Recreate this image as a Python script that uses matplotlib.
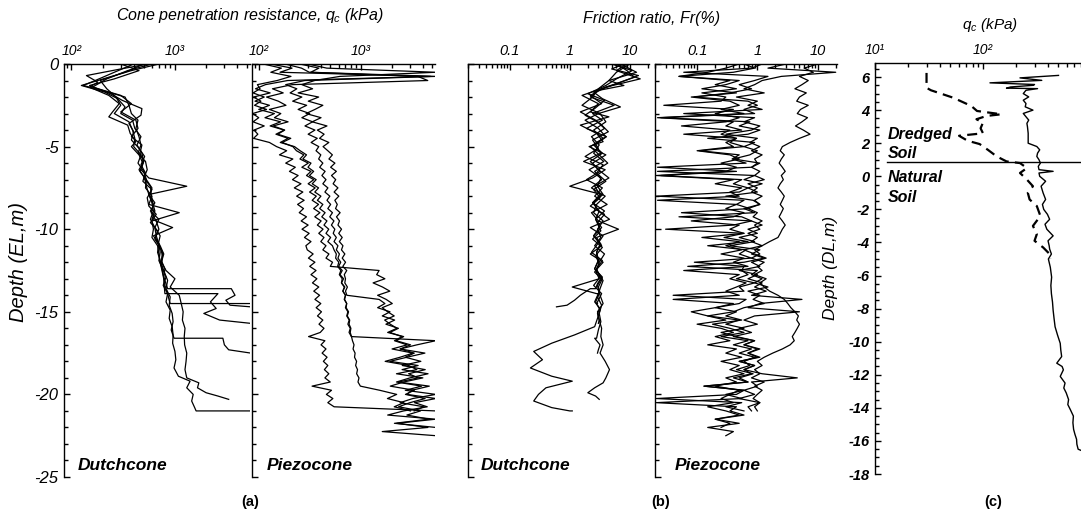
import numpy as np
import matplotlib
matplotlib.use("Agg")
import matplotlib.pyplot as plt
from matplotlib.ticker import LogLocator, MultipleLocator, NullFormatter

plt.rcParams['font.family'] = 'Liberation Sans'
plt.rcParams['font.style'] = 'italic'
plt.rcParams['axes.unicode_minus'] = False
plt.rcParams['mathtext.fontset'] = 'custom'
plt.rcParams['mathtext.it'] = 'Liberation Sans:italic'
plt.rcParams['mathtext.rm'] = 'Liberation Sans:italic'

# ---------------- (a)/(b) Dutchcone soundings: depth (EL, m), qc (kPa), Fr (%)
dc_a_depth = [0, -0.4, -0.8, -1.3, -1.7, -2.1, -2.6, -3.0, -3.4, -3.9,
              -4.4, -4.9, -5.4, -5.9, -6.4, -6.9, -7.4, -7.9, -8.4, -8.9,
              -9.4, -9.9, -10.4, -10.9, -11.4, -11.9, -12.4, -12.9, -13.3, -13.6,
              -13.6, -14.0, -14.3, -14.6, -14.7]
dc_a_qc = [700, 380, 230, 125, 210, 280, 330, 300, 390, 410,
           470, 430, 480, 500, 470, 560, 1300, 560, 640, 580,
           700, 640, 720, 690, 760, 740, 800, 780, 820, 850,
           3500, 3800, 3100, 3400, 5400]
dc_a_fr = [6, 9, 12, 5, 2.5, 3.5, 7, 3, 1.8, 3,
           4, 2.5, 3.5, 2.2, 3, 4.5, 2.6, 3.2, 2.4, 3.8,
           2.7, 3.1, 2.5, 3.3, 2.8, 3.0, 2.6, 3.4, 2.9, 2.7,
           2.2, 1.5, 1.2, 0.9, 0.6]

dc_b_depth = [0, -0.3, -0.7, -1.1, -1.4, -1.9, -2.4, -2.9, -3.2, -3.7,
              -4.2, -4.7, -5.0, -5.5, -6.0, -6.5, -7.0, -7.5, -8.0, -8.5,
              -9.0, -9.5, -10.0, -10.5, -11.0, -11.5, -12.0, -12.5, -13.0, -13.5,
              -13.9, -13.9, -14.4, -14.8, -15.1, -15.5, -15.7]
dc_b_qc = [550, 300, 140, 180, 150, 230, 290, 250, 230, 350,
           370, 420, 380, 450, 490, 460, 530, 520, 600, 560,
           1100, 600, 620, 600, 680, 700, 720, 750, 780, 790,
           800, 2600, 2200, 2500, 1900, 2700, 5400]
dc_b_fr = [8, 5, 14, 7, 4, 1.6, 3, 2.2, 4.5, 1.5,
           2.8, 3.6, 2.1, 4, 2.4, 3.2, 1.9, 3.5, 2.6, 4.2,
           2.3, 3, 6.5, 2.8, 3.4, 2.2, 3.6, 2.7, 3.1, 1.1,
           2.8, 3.0, 2.6, 3.2, 2.9, 3.1, 3.0]

dc_c_depth = [0, -0.5, -1.0, -1.3, -1.6, -2.0, -2.5, -3.0, -3.4, -3.9,
              -4.4, -4.9, -5.4, -5.9, -6.4, -6.9, -7.4, -7.9, -8.4, -8.9,
              -9.4, -9.9, -10.4, -10.9, -11.4, -11.9, -12.4, -12.9, -13.4, -13.9,
              -14.3, -14.5, -14.5]
dc_c_qc = [400, 260, 170, 130, 200, 330, 360, 380, 440, 420,
           450, 470, 440, 520, 540, 500, 580, 590, 610, 640,
           600, 950, 620, 700, 720, 700, 760, 820, 770, 850,
           880, 900, 5400]
dc_c_fr = [10, 6, 4.5, 8, 3, 2.2, 5.5, 2.4, 3.5, 1.9,
           4.1, 2.6, 3.3, 1.7, 3.9, 2.4, 1.0, 3.4, 2.5, 3.0,
           4.6, 2.2, 3.6, 2.9, 2.3, 3.5, 2.8, 3.2, 2.5, 3.4,
           3.0, 2.8, 2.9]

dc_d_depth = [0, -0.4, -0.9, -1.3, -1.8, -2.2, -2.7, -3.1, -3.6, -4.1,
              -4.6, -5.1, -5.6, -6.1, -6.6, -7.1, -7.6, -8.1, -8.6, -9.1,
              -9.6, -10.1, -10.6, -11.1, -11.6, -12.1, -12.6, -13.1, -13.6, -14.1,
              -14.6, -15.1, -15.6, -16.1, -16.6, -16.6, -17.0, -17.3, -17.5]
dc_d_qc = [300, 450, 260, 150, 240, 310, 480, 470, 360, 400,
           380, 450, 510, 470, 520, 490, 600, 540, 560, 660,
           580, 680, 640, 720, 760, 740, 790, 850, 820, 900,
           880, 940, 960, 920, 980, 2900, 3000, 3300, 5400]
dc_d_fr = [5, 11, 6, 4, 2, 3.8, 2.6, 1.8, 3.2, 4.4,
           2.4, 3.0, 1.8, 3.6, 2.8, 4.0, 2.5, 3.2, 2.2, 3.8,
           2.9, 3.3, 2.4, 3.5, 2.7, 3.1, 2.6, 3.6, 3.2, 2.9,
           3.4, 3.1, 3.3, 3.0, 2.8, 2.6, 3.2, 3.0, 2.9]

dc_e_depth = [0, -0.5, -1.0, -1.5, -2.0, -2.5, -3.0, -3.5, -4.0, -4.5,
              -5.0, -5.5, -6.0, -6.5, -7.0, -7.5, -8.0, -8.5, -9.0, -9.5,
              -10.0, -10.5, -11.0, -11.5, -12.0, -12.5, -13.0, -13.5, -14.0, -14.5,
              -15.0, -15.5, -16.0, -16.5, -17.0, -17.5, -18.0, -18.5, -19.0, -19.3,
              -19.6, -19.9, -20.1, -20.3]
dc_e_qc = [500, 330, 190, 220, 270, 300, 260, 360, 390, 410,
           400, 470, 440, 500, 530, 600, 570, 620, 590, 660,
           700, 650, 720, 780, 740, 820, 1000, 900, 1100, 1150,
           1200, 1180, 1250, 1230, 1240, 1300, 1280, 1250, 1300, 1700,
           1650, 2000, 2600, 3300]
dc_e_fr = [7, 13, 4.5, 3, 2.4, 1.6, 3.2, 4, 2.5, 3.6,
           2.2, 3.1, 4.3, 2.6, 3.4, 2.3, 3.9, 2.8, 2.5, 3.6,
           2.9, 3.3, 2.6, 3.8, 3.1, 2.8, 3.5, 3.0, 3.2, 3.6,
           2.9, 3.1, 3.4, 3.3, 3.6, 3.2, 3.9, 4.6, 4.0, 3.6,
           2.6, 2.0, 2.7, 3.1]

dc_f_depth = [0, -0.4, -0.9, -1.4, -1.9, -2.4, -2.9, -3.4, -3.9, -4.4,
              -4.9, -5.4, -5.9, -6.4, -6.9, -7.4, -7.9, -8.4, -8.9, -9.4,
              -9.9, -10.4, -10.9, -11.4, -11.9, -12.4, -12.9, -13.4, -13.9, -14.4,
              -14.9, -15.4, -15.9, -16.4, -16.9, -17.4, -17.9, -18.4, -18.9, -19.2,
              -19.6, -20.0, -20.4, -20.8, -21.0, -21.0]
dc_f_qc = [600, 350, 220, 160, 300, 380, 300, 420, 440, 380,
           480, 460, 500, 450, 510, 530, 560, 600, 620, 580,
           640, 660, 700, 680, 720, 750, 780, 800, 850, 820,
           900, 880, 940, 960, 950, 1000, 1020, 980, 1080, 1400,
           1300, 1500, 1450, 1550, 1600, 5400]
dc_f_fr = [9, 6, 15, 4, 2.2, 3.4, 1.5, 2.7, 3.8, 2.3,
           3.1, 2.5, 3.7, 2.1, 3.3, 2.9, 3.6, 2.4, 3.1, 2.7,
           3.4, 2.5, 3.2, 2.8, 3.0, 2.6, 3.5, 2.9, 3.1, 2.7,
           3.2, 2.9, 2.6, 1.2, 0.5, 0.25, 0.35, 0.22, 0.5, 1.1,
           0.4, 0.3, 0.25, 0.5, 1.0, 1.1]

# ---------------- (a)/(b) Piezocone soundings, read every 0.25 m from the surface
pz_step = 0.25
pz1_qc = [130, 210, 160, 4800, 190,  115, 92, 128, 88, 104,  90, 118, 86, 99, 87,
          112, 89, 97, 88, 126,  148, 186, 158, 214, 182,  226, 198, 241, 212, 257,
          221, 268, 233, 276, 238,  272, 247, 291, 258, 302,  263, 309, 278, 322, 287,
          296, 338, 304, 352, 313,  361, 322, 368, 333, 384,  343, 391, 352, 402, 362,
          408, 373, 421, 386, 432,  397, 305, 441, 404, 452,  414, 463, 426, 471, 436,
          482, 441, 498, 330, 512,  456, 528, 471, 543, 5400]
pz2_qc = [180, 260, 310, 3600, 4500,  210, 135, 172, 118, 154,  183, 126, 163, 141, 192,
          137, 178, 152, 204, 168,  214, 232, 274, 251, 303,  262, 322, 291, 343, 302,
          354, 312, 363, 331, 382,  342, 394, 351, 405, 372,  423, 384, 432, 402, 452,
          421, 483, 452, 524, 498,  1500, 1420, 1710, 1310, 1620,  1910, 1450, 1760, 2020, 1610,
          1820, 2110, 1700, 1930, 2240,  1820, 2610, 2200, 3050, 2420,  3320, 2710, 3850, 2530, 4250,
          2920, 3640, 2310, 4660, 3130,  2820, 5400, 3340, 4450, 2610,  1820, 5400, 2240, 4520, 1610, 5400]
pz3_qc = [300, 460, 5400, 620, 350,  262, 334, 241, 383, 303,  421, 352, 288, 404, 331,
          462, 372, 433, 391, 482,  423, 471, 522, 483, 553,  502, 571, 512, 563, 531,
          592, 543, 604, 552, 583,  561, 622, 573, 613, 592,  642, 603, 652, 611, 663,
          641, 692, 652, 703, 661,  722, 683, 702, 691, 733,  702, 724, 1500, 1710, 1450,
          1920, 1610, 2130, 1750, 2320,  1910, 2520, 2120, 2830, 2010,  3220, 2410, 1720, 2930, 3520,
          2220, 4030, 2610, 1930, 3320,  2720, 4240, 3010, 2330, 3820,  2810, 4630, 2120, 5400]
pz4_qc = [110, 165, 130, 205, 150,  96, 102, 87, 112, 91,  126, 99, 141, 114, 162,
          128, 176, 146, 192, 161,  222, 252, 291, 268, 322,  301, 342, 311, 362, 331,
          382, 351, 403, 372, 421,  392, 443, 411, 462, 432,  481, 452, 502, 471, 523,
          542, 571, 562, 603, 588,  632, 611, 652, 641, 683,  662, 702, 688, 721, 712,
          752, 731, 772, 761, 793,  781, 804, 822, 851, 833,  872, 861, 902, 883, 921,
          903, 952, 931, 983, 1520,  2230, 1810, 2620, 2110, 3050]
pz5_qc = [250, 385, 320, 5400, 280,  182, 234, 201, 262, 213,  292, 241, 313, 262, 334,
          281, 352, 302, 371, 323,  384, 361, 402, 383, 421,  392, 443, 412, 452, 421,
          472, 441, 493, 462, 502,  471, 523, 492, 541, 511,  552, 532, 571, 542, 592,
          571, 612, 592, 631, 601,  652, 621, 672, 641, 692,  661, 703, 682, 722, 701,
          741, 722, 763, 741, 782,  761, 802, 5400, 3520, 2410,  4220, 2810, 1910, 3620, 2520,
          4530, 3010, 2220, 3920, 2710,  5400, 3210, 2410, 4120, 3310]

pz1_fr = [0.6, 0.9, 0.4, 0.05, 0.5,  0.3, 0.12, 0.45, 0.08, 0.35,  0.5, 0.25, 0.6, 0.022, 0.4,
          0.3, 0.55, 0.06, 0.45, 0.35,  0.6, 0.11, 0.5, 0.38, 0.65,  0.022, 0.45, 0.025, 0.55, 0.4,
          0.7, 0.5, 0.021, 0.6, 0.45,  0.75, 0.055, 0.55, 0.8, 0.4,  0.03, 0.6, 0.28, 0.7, 0.15,
          0.65, 0.5, 0.8, 0.09, 0.6,  0.55, 0.7, 0.45, 0.9, 0.5,  0.6, 0.04, 0.65, 0.5, 0.2,
          0.45, 0.3, 0.55, 0.18, 0.35,  0.6, 0.25, 0.7, 0.4, 0.8,  0.5, 0.9, 0.6, 0.75, 0.45,
          0.85, 0.5, 0.7, 0.13, 0.6,  0.45, 0.021, 0.55, 0.3, 0.6]
pz2_fr = [1.2, 0.8, 0.06, 1.5, 0.9,  0.5, 0.8, 0.35, 0.09, 0.7,  1.0, 0.6, 0.9, 0.025, 0.75,
          0.5, 1.1, 0.7, 0.15, 0.9,  0.6, 1.0, 0.75, 0.4, 1.1,  0.8, 0.022, 0.9, 0.6, 1.2,
          0.7, 1.0, 0.3, 0.85, 1.1,  0.6, 0.9, 0.05, 0.8, 1.2,  0.7, 1.0, 0.5, 0.9, 0.35,
          1.1, 0.8, 1.3, 0.6, 0.07,  1.0, 0.8, 1.2, 0.9, 1.5,  0.7, 1.1, 0.85, 1.3, 0.6,
          0.4, 0.15, 0.5, 0.3, 0.6,  0.25, 0.45, 0.9, 0.6, 1.0,  0.7, 1.1, 0.5, 0.9, 0.6,
          0.8, 0.4, 0.7, 0.13, 0.6,  0.3, 0.55, 0.021, 0.45, 0.35,  0.6, 0.2, 0.5, 0.15, 0.4, 0.3]
pz3_fr = [0.5, 0.3, 0.15, 0.05, 0.35,  0.2, 0.45, 0.12, 0.3, 0.25,  0.028, 0.4, 0.2, 0.5, 0.3,
          0.055, 0.35, 0.25, 0.45, 0.3,  0.4, 0.1, 0.35, 0.5, 0.25,  0.45, 0.3, 0.021, 0.4, 0.2,
          0.55, 0.35, 0.5, 0.022, 0.45,  0.3, 0.6, 0.4, 0.08, 0.5,  0.35, 0.6, 0.12, 0.5, 0.3,
          0.55, 0.25, 0.6, 0.4, 0.7,  0.06, 0.5, 0.35, 0.65, 0.45,  0.3, 0.5, 0.04, 0.4, 0.2,
          0.08, 0.15, 0.3, 0.1, 0.25,  0.4, 0.2, 0.35, 0.15, 0.45,  0.3, 0.55, 0.25, 0.5, 0.35,
          0.6, 0.3, 0.45, 0.2, 0.5,  0.35, 0.25, 0.4, 0.15, 0.3,  0.5, 0.2, 0.35, 0.25]
pz4_fr = [10, 6, 8.5, 5, 7,  5.5, 4.2, 6.5, 5, 4.5,  7, 5.2, 4.6, 6.8, 5.5,
          4.3, 5.8, 7.5, 5, 3.5,  2.6, 2.4, 2.8, 2.5, 2.3,  2.6, 2.9, 2.5, 2.7, 2.4,
          2.2, 2.5, 2.8, 2.6, 2.4,  2.7, 2.5, 2.3, 2.6, 2.9,  2.6, 2.4, 2.2, 1.6, 1.2,
          0.9, 1.1, 0.8, 1.3, 1.0,  1.2, 0.9, 1.4, 1.1, 1.3,  1.6, 2.2, 2.8, 3.2, 3.6,
          4.2, 4.8, 4.5, 5.0, 4.6,  4.2, 3.8, 4.1, 3.5, 2.6,  1.8, 1.3, 1.0, 1.2, 0.9,
          1.1, 0.8, 1.3, 0.9, 1.2,  1.0, 0.85, 1.1, 0.9, 1.0]
pz5_fr = [3, 1.5, 20, 2.5, 1.2,  0.9, 0.6, 1.3, 0.45, 1.0,  0.7, 1.2, 0.06, 0.9, 0.6,
          1.1, 0.8, 0.3, 1.0, 0.75,  1.1, 0.8, 1.2, 0.9, 1.0,  0.8, 1.1, 0.9, 1.3, 0.7,
          1.0, 0.8, 1.2, 0.9, 1.1,  0.7, 1.0, 0.85, 1.2, 0.9,  1.1, 0.7, 1.0, 0.8, 1.2,
          0.6, 0.9, 1.4, 0.8, 1.1,  0.5, 1.0, 0.7, 1.2, 0.9,  1.4, 0.8, 5.5, 1.1, 0.7,
          5.0, 0.9, 0.6, 1.0, 0.5,  0.8, 0.4, 0.9, 0.6, 1.1,  0.7, 1.0, 0.5, 0.9, 0.6,
          1.2, 4.6, 0.8, 1.0, 0.6,  0.9, 0.5, 1.1, 0.7, 0.8]

# ---------------- (c) qc profiles, depth (DL, m)
c_dash_depth = [6.25, 5.35, 5.2, 4.75, 4.25, 3.95, 3.75, 3.65, 3.45, 3.25, 2.9, 2.6, 2.45,
                2.15, 1.95, 1.6, 1.2, 0.9, 0.8, 0.5, 0.2, -0.2, -0.6, -1.0, -1.4, -1.8,
                -2.4, -3.0, -3.5, -3.9, -4.3, -4.7, -5.0]
c_dash_qc = [30, 30, 33, 53, 78, 88, 148, 108, 87, 100, 95, 100, 60,
             72, 93, 111, 134, 165, 220, 255, 220, 255, 290, 260, 270, 315,
             340, 290, 315, 300, 360, 414, 420]
c_solid_depth = [6.1, 5.95, 5.8, 5.65, 5.55, 5.5, 5.4, 5.33, 5.3, 5.2, 5.0, 4.8, 4.6, 4.4,
                 4.2, 4.0, 3.8, 3.6, 3.4, 3.2, 3.0, 2.6, 2.3, 2.0, 1.8, 1.6, 1.4, 1.2,
                 1.0, 0.8, 0.6, 0.4, 0.3, 0.2, 0.0, -0.3, -0.6, -1.0, -1.4, -1.7, -2.0,
                 -2.3, -2.6, -2.9, -3.2, -3.6, -3.9, -4.2, -4.4, -4.7, -5.0, -5.5, -6.1,
                 -6.6, -7.1, -7.6, -8.1, -8.6, -9.1, -9.6, -10.1, -10.5, -10.9, -11.3,
                 -11.5, -11.7, -12.1, -12.5, -12.8, -13.1, -13.5, -13.8, -14.1, -14.5,
                 -14.9, -15.3, -15.6, -15.9, -16.2, -16.5, -16.7]
c_solid_qc = [500, 220, 350, 116, 300, 290, 180, 165, 320, 250, 236, 265, 236, 250,
              246, 290, 236, 250, 265, 255, 258, 262, 262, 262, 315, 335, 320, 315,
              330, 340, 325, 330, 446, 330, 335, 380, 345, 360, 380, 355, 365,
              395, 414, 375, 390, 446, 400, 410, 414, 430, 403, 420, 432,
              425, 430, 440, 446, 455, 465, 490, 519, 525, 535, 482,
              540, 555, 519, 575, 560, 590, 620, 610, 643, 687,
              680, 690, 710, 735, 740, 760, 900]
dredged_base = 0.87   # DL of the dredged / natural soil boundary

dc_depths = [dc_a_depth, dc_b_depth, dc_c_depth, dc_d_depth, dc_e_depth, dc_f_depth]
dc_qcs = [dc_a_qc, dc_b_qc, dc_c_qc, dc_d_qc, dc_e_qc, dc_f_qc]
dc_frs = [dc_a_fr, dc_b_fr, dc_c_fr, dc_d_fr, dc_e_fr, dc_f_fr]
pz_qcs = [pz1_qc, pz2_qc, pz3_qc, pz4_qc, pz5_qc]
pz_frs = [pz1_fr, pz2_fr, pz3_fr, pz4_fr, pz5_fr]

W, H = 1081, 511
fig = plt.figure(figsize=(W / 100, H / 100), dpi=100)


def px_axes(x0, x1, y0, y1):
    # axes box given in pixels of the final picture
    return fig.add_axes([x0 / W, 1 - y1 / H, (x1 - x0) / W, (y1 - y0) / H])


def ftext(x, y, s, **kw):
    kw.setdefault('ha', 'center')
    kw.setdefault('va', 'center')
    fig.text(x / W, 1 - y / H, s, **kw)


def style(ax, xlim, ylim, xticks, xlabels, ymaj, ymin, xsize, ysize=12, ylabels=True, yweight='normal'):
    ax.set_xscale('log')
    ax.set_xticks(xticks, xlabels)
    ax.set_xlim(*xlim)
    ax.set_ylim(*ylim)
    for s in ('right', 'bottom'):
        ax.spines[s].set_visible(False)
    for s in ('left', 'top'):
        ax.spines[s].set_linewidth(1.0)
    ax.xaxis.tick_top()
    ax.xaxis.set_minor_locator(LogLocator(base=10, subs=np.arange(2, 10), numticks=20))
    ax.xaxis.set_minor_formatter(NullFormatter())
    ax.yaxis.set_major_locator(MultipleLocator(ymaj))
    ax.yaxis.set_minor_locator(MultipleLocator(ymin))
    ax.tick_params(which='both', direction='in', top=True, bottom=False,
                   left=True, right=False, width=1.0)
    ax.tick_params(which='major', length=4.5)
    ax.tick_params(which='minor', length=3)
    ax.tick_params(axis='x', labelsize=xsize, pad=4)
    ax.tick_params(axis='y', labelsize=ysize, pad=4)
    if not ylabels:
        ax.tick_params(axis='y', labelleft=False)
    for lbl in ax.get_yticklabels():
        lbl.set_fontweight(yweight)


qc_lim = (85, 5300)
fr_lim = (0.02, 21)
lw = 0.9

ax1 = px_axes(64, 250, 64, 477)
ax2 = px_axes(252, 435, 64, 477)
ax3 = px_axes(468, 649, 64, 477)
ax4 = px_axes(655, 837, 64, 477)
ax5 = px_axes(875, 1091, 63, 474)

for d, q in zip(dc_depths, dc_qcs):
    ax1.plot(q, d, color='k', lw=lw)
for d, f in zip(dc_depths, dc_frs):
    ax3.plot(f, d, color='k', lw=lw)
for q in pz_qcs:
    ax2.plot(q, -pz_step * np.arange(len(q)), color='k', lw=lw)
for f in pz_frs:
    ax4.plot(f, -pz_step * np.arange(len(f)), color='k', lw=lw)

ax5.plot(c_dash_qc, c_dash_depth, color='k', lw=1.6, dashes=(4.5, 2.8))
ax5.plot(c_solid_qc, c_solid_depth, color='k', lw=1.0)
ax5.axhline(dredged_base, xmin=0.056, xmax=1, color='k', lw=1.0)

style(ax1, qc_lim, (-25, 0), [100, 1000], ['10²', '10³'], 5, 1, 10)
style(ax2, qc_lim, (-25, 0), [100, 1000], ['10²', '10³'], 5, 1, 10, ylabels=False)
style(ax3, fr_lim, (-25, 0), [0.1, 1, 10], ['0.1', '1', '10'], 5, 1, 10.5, ylabels=False)
style(ax4, fr_lim, (-25, 0), [0.1, 1, 10], ['0.1', '1', '10'], 5, 1, 10.5, ylabels=False)
style(ax5, (10, 1000), (-18, 6.85), [10, 100], ['10¹', '10²'], 2, 0.5, 10,
      ysize=10.5, yweight='bold')

# titles and axis names
ftext(250, 15, 'Cone penetration resistance, $q_c$ (kPa)', size=11.5)
ftext(652, 18, 'Friction ratio, Fr(%)', size=11.5)
ftext(990, 25, '$q_c$ (kPa)', size=11)
ftext(19, 262, 'Depth (EL,m)', rotation=90, size=14.5)
ftext(831, 268, 'Depth (DL,m)', rotation=90, size=12.5)

# panel names
for x, s in [(78, 'Dutchcone'), (267, 'Piezocone'), (481, 'Dutchcone'), (675, 'Piezocone')]:
    ftext(x, 465, s, ha='left', weight='bold', size=12.5)
for x, s in [(250, '(a)'), (661, '(b)'), (993, '(c)')]:
    ftext(x, 502, s, weight='bold', style='normal', size=10.5)

for y, s in [(134, 'Dredged'), (154, 'Soil'), (178, 'Natural'), (198, 'Soil')]:
    ftext(888, y, s, ha='left', weight='bold', size=11.5)

fig.savefig('out.png', dpi=100)
